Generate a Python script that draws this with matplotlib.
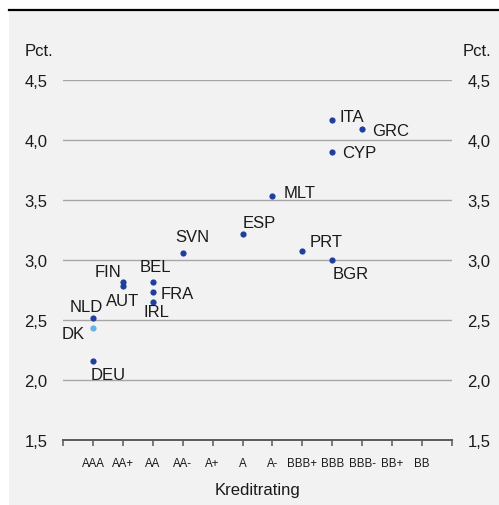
import matplotlib
matplotlib.use("Agg")
import matplotlib.pyplot as plt
from matplotlib.patches import Rectangle
from matplotlib.lines import Line2D

plt.rcParams['font.family'] = ['Liberation Sans', 'DejaVu Sans']

ratings = ["AAA", "AA+", "AA", "AA-", "A+", "A", "A-", "BBB+", "BBB", "BBB-", "BB+", "BB"]

countries = ["NLD", "DEU", "FIN", "AUT", "BEL", "FRA", "IRL", "SVN", "ESP", "MLT",
             "PRT", "BGR", "CYP", "ITA", "GRC"]
country_rating = ["AAA", "AAA", "AA+", "AA+", "AA", "AA", "AA", "AA-", "A", "A-",
                  "BBB+", "BBB", "BBB", "BBB", "BBB-"]
country_yield = [2.52, 2.16, 2.82, 2.78, 2.82, 2.73, 2.65, 3.06, 3.22, 3.53,
                 3.075, 3.0, 3.90, 4.17, 4.09]

dk_label = "DK"
dk_rating = "AAA"
dk_yield = 2.43

# label offsets (points) and alignment
label_style = {
    "NLD": (-5, 8, "center"), "DEU": (11, -10, "center"), "FIN": (-1, 7, "right"),
    "AUT": (0, -10, "center"), "BEL": (2, 11, "center"), "FRA": (6, -1, "left"),
    "IRL": (3, -7, "center"), "SVN": (7, 12, "center"), "ESP": (0, 8, "left"),
    "MLT": (8, 3, "left"), "PRT": (5, 7, "left"), "BGR": (0, -10, "left"),
    "CYP": (7, 0, "left"), "ITA": (5, 2, "left"), "GRC": (7, -1, "left"),
}

dark = "#1f3f9e"
light = "#63b4e6"
grid_c = "#a6a6a6"
axis_c = "#595959"
text_c = "#1a1a1a"
FS = 12

W, H = 499, 506
fig = plt.figure(figsize=(W / 100, H / 100), dpi=100)
fig.patch.set_facecolor("white")
fig.patches.append(Rectangle((9 / W, 0), 1 - 9 / W, (H - 12) / H, transform=fig.transFigure,
                             facecolor="#f2f2f2", edgecolor="none", zorder=-10))
fig.lines.append(Line2D([9 / W, 1], [(H - 11) / H, (H - 11) / H], transform=fig.transFigure,
                        color="black", lw=1.6, zorder=-5))

ax = fig.add_axes([63 / W, (H - 441) / H, (452 - 63) / W, (441 - 81) / H])
ax.set_zorder(1)
ax.set_facecolor("none")
ax.set_xlim(0, 13)
ax.set_ylim(1.5, 4.5)

for y in [2.0, 2.5, 3.0, 3.5, 4.0, 4.5]:
    ax.axhline(y, color=grid_c, lw=1.0, zorder=1)

for s in ["top", "left", "right"]:
    ax.spines[s].set_visible(False)
ax.spines["bottom"].set_color(axis_c)
ax.spines["bottom"].set_linewidth(1.4)

pos = {r: i + 1 for i, r in enumerate(ratings)}
xs = [pos[r] for r in country_rating]
ax.scatter(xs, country_yield, s=20, color=dark, zorder=3, clip_on=False, linewidths=0)
ax.scatter([pos[dk_rating]], [dk_yield], s=20, color=light, zorder=3, clip_on=False, linewidths=0)

for c, x, y in zip(countries, xs, country_yield):
    dx, dy, ha = label_style[c]
    ax.annotate(c, (x, y), xytext=(dx, dy), textcoords="offset points", ha=ha, va="center",
                fontsize=FS, color=text_c, zorder=4)
ax.annotate(dk_label, (pos[dk_rating], dk_yield), xytext=(-6, -4), textcoords="offset points",
            ha="right", va="center", fontsize=FS, color=text_c)

ax.set_xticks(range(0, 14))
ax.set_xticklabels([""] + ratings + [""], fontsize=8.3, color=text_c)
ax.tick_params(axis="x", length=4, width=1.1, color=axis_c, pad=8.5)
ax.set_xlabel("Kreditrating", fontsize=FS, color=text_c, labelpad=9)

yt = [1.5, 2.0, 2.5, 3.0, 3.5, 4.0, 4.5]
ax.set_yticks(yt)
ax.set_yticklabels([f"{v:.1f}".replace(".", ",") for v in yt], fontsize=FS, color=text_c)
ax.tick_params(axis="y", length=0, pad=11, labelleft=True, labelright=True)

fig.text(25 / W, (H - 51) / H, "Pct.", fontsize=FS, color=text_c, ha="left", va="center")
fig.text(491 / W, (H - 51) / H, "Pct.", fontsize=FS, color=text_c, ha="right", va="center")

fig.savefig("out.png", dpi=100)
